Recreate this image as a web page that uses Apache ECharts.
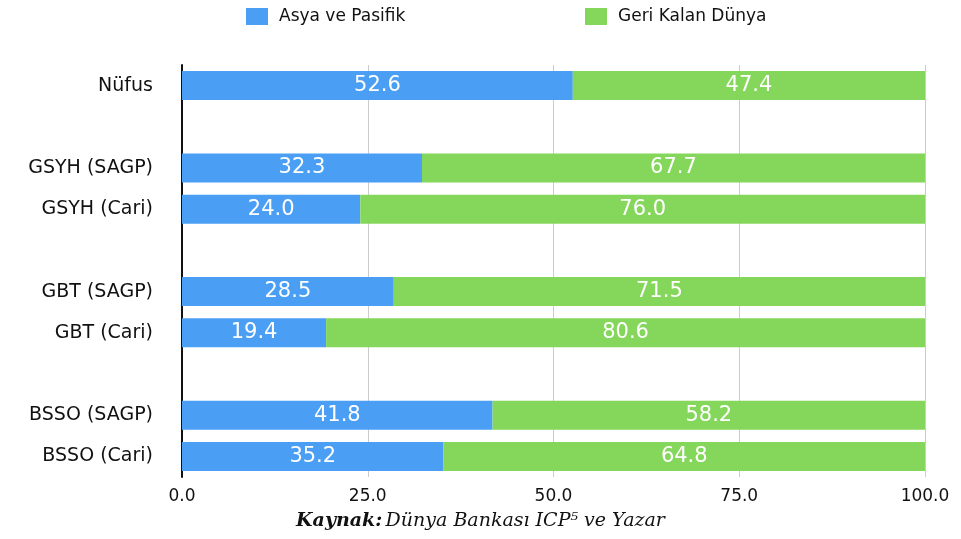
<!DOCTYPE html>
<html><head><meta charset="utf-8">
<script src="https://cdn.jsdelivr.net/npm/echarts@6/dist/echarts.min.js"></script>
<style>html,body{margin:0;padding:0;background:#fff}#c{width:961px;height:539px}</style>
</head><body><div id="c"></div>
<script>
var categories = ['Nüfus', ' ', 'GSYH (SAGP)', 'GSYH (Cari)', '  ', 'GBT (SAGP)', 'GBT (Cari)', '   ', 'BSSO (SAGP)', 'BSSO (Cari)'];
var asiaPacific = [52.6, null, 32.3, 24.0, null, 28.5, 19.4, null, 41.8, 35.2];
var restOfWorld = [47.4, null, 67.7, 76.0, null, 71.5, 80.6, null, 58.2, 64.8];
var xTicks = [0, 25, 50, 75, 100];
var seriesNames = ['Asya ve Pasifik', 'Geri Kalan Dünya'];

var chart = echarts.init(document.getElementById('c'), null, {renderer: 'canvas'});
var font = '"DejaVu Sans", "Liberation Sans", sans-serif';
function lbl() {
  return {show: true, position: 'inside', color: '#fff', fontSize: 21, fontFamily: font,
    formatter: function(p){ return p.value == null ? '' : Number(p.value).toFixed(1); }};
}
function legendAt(x, name) {
  return {
    top: 3, left: x, itemWidth: 22, itemHeight: 17, icon: 'rect',
    textStyle: {fontSize: 17, color: '#111', fontFamily: font, padding: [0, 0, 0, 6]},
    data: [name]
  };
}
chart.setOption({
  animation: false,
  color: ['#4a9ff5', '#84d75a'],
  legend: [legendAt(241, seriesNames[0]), legendAt(580, seriesNames[1])],
  grid: {left: 182, right: 36, top: 65, bottom: 62, containLabel: false},
  xAxis: {
    type: 'value', min: xTicks[0], max: xTicks[xTicks.length - 1], interval: 25,
    axisLine: {show: false}, axisTick: {show: false},
    splitLine: {show: true, lineStyle: {color: '#cccccc', width: 1}},
    axisLabel: {fontSize: 17, color: '#111', fontFamily: font, margin: 11,
      formatter: function(v){ return v.toFixed(1); }}
  },
  yAxis: {
    type: 'category', inverse: true, data: categories,
    axisLine: {show: true, lineStyle: {color: '#111', width: 2}},
    axisTick: {show: false},
    axisLabel: {fontSize: 19, color: '#111', fontFamily: font, margin: 29}
  },
  series: [
    {name: seriesNames[0], type: 'bar', stack: 's', data: asiaPacific, barWidth: 29, label: lbl()},
    {name: seriesNames[1], type: 'bar', stack: 's', data: restOfWorld, barWidth: 29, label: lbl()}
  ],
  graphic: [{
    type: 'text', left: 'center', top: 512,
    style: {
      text: '{b|Kaynak:} {i|Dünya Bankası ICP⁵ ve Yazar}',
      rich: {
        b: {fontFamily: '"DejaVu Serif", serif', fontStyle: 'italic', fontWeight: 'bold', fontSize: 19, fill: '#111'},
        i: {fontFamily: '"DejaVu Serif", serif', fontStyle: 'italic', fontSize: 19, fill: '#111'}
      }
    }
  }]
});
</script></body></html>
